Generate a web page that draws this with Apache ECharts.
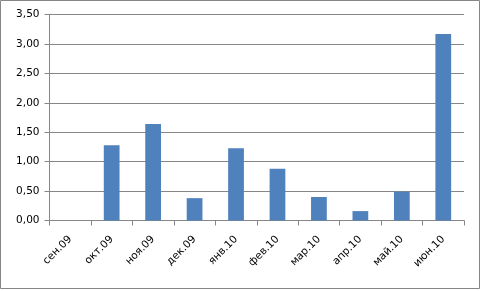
<!DOCTYPE html>
<html><head><meta charset="utf-8">
<script src="https://cdn.jsdelivr.net/npm/echarts@6/dist/echarts.min.js"></script>
<style>html,body{margin:0;padding:0;background:#fff}#c{width:484px;height:291px}</style>
</head><body><div id="c"></div>
<script>
const categories = ['сен.09','окт.09','ноя.09','дек.09','янв.10','фев.10','мар.10','апр.10','май.10','июн.10'];
const values = [0, 1.28, 1.64, 0.38, 1.23, 0.88, 0.40, 0.16, 0.49, 3.17];
const yMin = 0, yMax = 3.5, yStep = 0.5;

const chart = echarts.init(document.getElementById('c'), null, {renderer:'canvas'});
chart.setOption({
  animation: false,
  backgroundColor: '#fff',
  graphic: [{type:'rect', shape:{x:0.5,y:0.5,width:479,height:288}, style:{fill:'none', stroke:'#868686', lineWidth:1}, silent:true}],
  grid: {left:49.5, right:20, top:14.7, bottom:70.5, containLabel:false},
  xAxis: {
    type:'category', data: categories, boundaryGap:true,
    axisLine:{lineStyle:{color:'#868686', width:1}},
    axisTick:{show:true, alignWithLabel:false, length:5, lineStyle:{color:'#868686'}},
    axisLabel:{rotate:45, color:'#000', fontFamily:'DejaVu Sans', fontSize:10.5, margin:17, interval:0}
  },
  yAxis: {
    type:'value', min:yMin, max:yMax, interval:yStep,
    axisLine:{show:true, lineStyle:{color:'#868686'}},
    axisTick:{show:true, length:5, lineStyle:{color:'#868686'}},
    splitLine:{lineStyle:{color:'#868686', width:1}},
    axisLabel:{color:'#000', fontFamily:'DejaVu Sans', fontSize:10.5, margin:10,
      formatter: v => v.toFixed(2).replace('.', ',')}
  },
  series: [{type:'bar', data: values, barWidth:'38%', itemStyle:{color:'#4F81BD'}}]
});
</script></body></html>
